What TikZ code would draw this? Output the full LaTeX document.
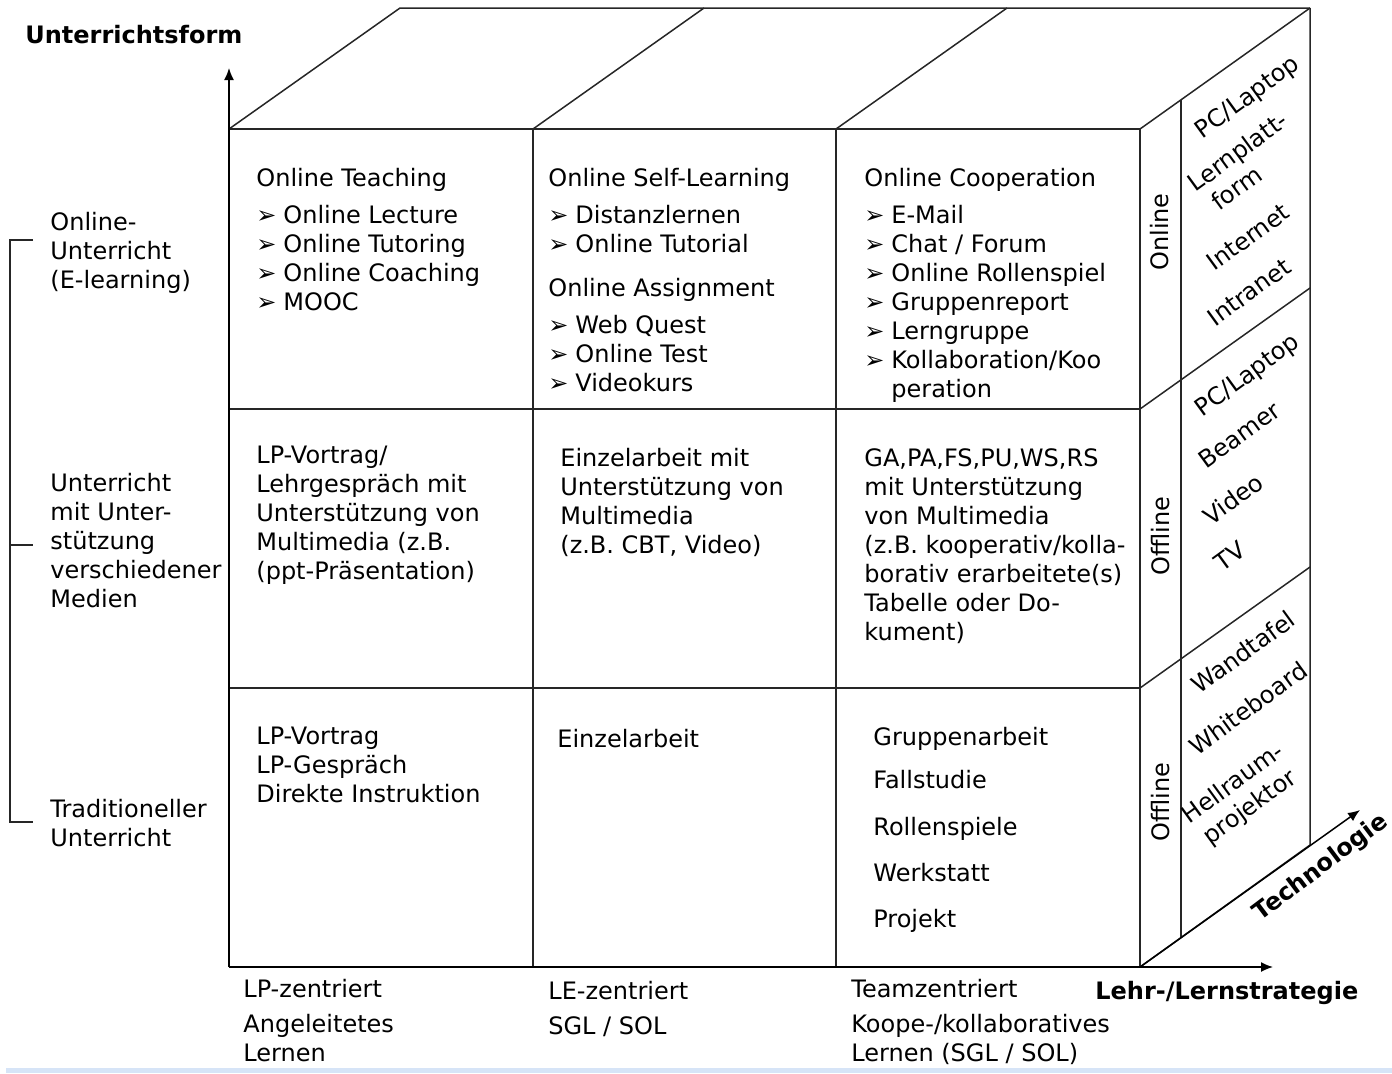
\documentclass[tikz,border=0pt]{standalone}
\usepackage{fontspec}
\setmainfont{DejaVu Sans}
\usetikzlibrary{arrows.meta,calc}
\newcommand\itm{\makebox[13.5pt][l]{➢}}
\definecolor{bandblue}{HTML}{D6E4F7}
\begin{document}
\begin{tikzpicture}[x=0.5pt,y=-0.5pt,
  edge/.style={line width=0.75pt,draw=black!85},
  axis/.style={line width=0.75pt,draw=black,-{Latex[length=6pt,width=5pt]}},
  % text blocks: placed by the top of the first line (baseline - 10pt)
  txt/.style={anchor=north west,inner sep=0pt,align=left,
    font=\fontsize{12}{14.5}\selectfont,
    execute at begin node={\rule{0pt}{10pt}}},
  axislbl/.style={inner sep=0pt,font=\fontsize{12}{14.5}\selectfont\bfseries},
  sidelbl/.style={inner sep=0pt,rotate=36,align=center,font=\fontsize{12}{14.5}\selectfont},
  vlbl/.style={inner sep=0pt,rotate=90,font=\fontsize{12}{14.5}\selectfont}]
\useasboundingbox (0,0) rectangle (1392,1073);
\fill[bandblue] (6,1068) rectangle (1392,1073);

% front face corners and grid
\coordinate (F00) at (229,129); \coordinate (F30) at (1140,129);
\coordinate (F03) at (229,967); \coordinate (F33) at (1140,967);
\coordinate (C1t) at (533,129); \coordinate (C2t) at (836,129);
\coordinate (C1b) at (533,967); \coordinate (C2b) at (836,967);
\coordinate (R1l) at (229,409); \coordinate (R2l) at (229,688);
\coordinate (R1r) at (1140,409); \coordinate (R2r) at (1140,688);
% back corners
\coordinate (B00) at (400,8); \coordinate (B10) at (704,8);
\coordinate (B20) at (1007,8); \coordinate (B30) at (1310,8);
\coordinate (B33) at (1310,845);
\coordinate (S1) at (1310,288); \coordinate (S2) at (1310,567);

% front face
\draw[edge] (F00) -- (F30) -- (F33);
\draw[edge] (C1t) -- (C1b) (C2t) -- (C2b);
\draw[edge] (R1l) -- (R1r) (R2l) -- (R2r);
% top face
\draw[edge] (F00) -- (B00) -- (B30);
\draw[edge] (C1t) -- (B10) (C2t) -- (B20) (F30) -- (B30);
% side face
\draw[edge] (B30) -- (B33) -- (F33);
\draw[edge] (R1r) -- (S1) (R2r) -- (S2);
\draw[edge] ($(F30)!41/170!(B30)$) -- ($(F33)!41/170!(B33)$);

% axes
\coordinate (vtip) at (229,68);
\coordinate (htip) at (1273,967);
\coordinate (ttip) at (1360,810);
\draw[axis] (F03) -- (vtip);
\draw[axis] (F03) -- (htip);
\draw[axis] (F33) -- (ttip);

\node[axislbl,anchor=base west] (yl) at (25,43) {Unterrichtsform};
\node[axislbl,anchor=base west] (xl) at (1095,999) {Lehr-/Lernstrategie};
\node[axislbl,rotate=37] (zl) at (1321,868) {Technologie};

% bracket on the left
\coordinate (k1) at (33,240); \coordinate (k2) at (33,545); \coordinate (k3) at (33,822);
\draw[edge,line width=0.6pt] (k1) -- (10,240) -- (10,822) -- (k3);
\draw[edge,line width=0.6pt] (10,545) -- (k2);

\node[txt] (l1) at (50,212) {Online-\\Unterricht\\(E-learning)};
\node[txt] (l2) at (50,473) {Unterricht\\mit Unter-\\stützung\\verschiedener\\Medien};
\node[txt] (l3) at (50,799) {Traditioneller\\Unterricht};

% row 1
\node[txt] (a1) at (256,168) {Online Teaching\\[4pt]
  \itm Online Lecture\\\itm Online Tutoring\\\itm Online Coaching\\\itm MOOC};
\node[txt] (b1) at (548,168) {Online Self-Learning\\[4pt]
  \itm Distanzlernen\\\itm Online Tutorial\\[7.5pt]
  Online Assignment\\[4pt]
  \itm Web Quest\\\itm Online Test\\\itm Videokurs};
\node[txt] (c1) at (864,168) {Online Cooperation\\[4pt]
  \itm E-Mail\\\itm Chat / Forum\\\itm Online Rollenspiel\\\itm Gruppenreport\\
  \itm Lerngruppe\\\itm Kollaboration/Koo\\\hspace*{13.5pt}peration};
% row 2
\node[txt] (a2) at (256,446) {LP-Vortrag/\\Lehrgespräch mit\\Unterstützung von\\Multimedia (z.B.\\(ppt-Präsentation)};
\node[txt] (b2) at (560,448) {Einzelarbeit mit\\Unterstützung von\\Multimedia\\(z.B. CBT, Video)};
\node[txt] (c2) at (864,448) {GA,PA,FS,PU,WS,RS\\mit Unterstützung\\von Multimedia\\(z.B. kooperativ/kolla-\\borativ erarbeitete(s)\\Tabelle oder Do-\\kument)};
% row 3
\node[txt] (a3) at (256,727) {LP-Vortrag\\LP-Gespräch\\Direkte Instruktion};
\node[txt] (b3) at (557,727) {Einzelarbeit};
\node[txt] (c3) at (873,727) {Gruppenarbeit\\[7pt]Fallstudie\\[9pt]Rollenspiele\\[8.5pt]Werkstatt\\[8.5pt]Projekt};

% strategy labels
\node[txt] (s1) at (243,979) {LP-zentriert\\[3pt]Angeleitetes\\Lernen};
\node[txt] (s2) at (548,981) {LE-zentriert\\[3pt]SGL / SOL};
\node[txt] (s3) at (851,979) {Teamzentriert\\[3pt]Koope-/kollaboratives\\Lernen (SGL / SOL)};

% side face labels
\node[vlbl] (on) at (1160,232) {Online};
\node[vlbl] (off1) at (1161,536) {Offline};
\node[vlbl] (off2) at (1161,802) {Offline};

\node[sidelbl] (t1) at (1248,98) {PC/Laptop};
\node[sidelbl,align=left] (t2) at (1246,163) {Lernplatt-\\\hspace*{4pt}form};
\node[sidelbl] (t3) at (1248,237) {Internet};
\node[sidelbl] (t4) at (1249,292) {Intranet};
\node[sidelbl] (t5) at (1248,376) {PC/Laptop};
\node[sidelbl] (t6) at (1239,435) {Beamer};
\node[sidelbl] (t7) at (1233,499) {Video};
\node[sidelbl] (t8) at (1230,556) {TV};
\node[sidelbl] (t9) at (1243,652) {Wandtafel};
\node[sidelbl] (t10) at (1248,708) {Whiteboard};
\node[sidelbl] (t11) at (1242,796) {Hellraum-\\projektor};
\end{tikzpicture}
\end{document}
